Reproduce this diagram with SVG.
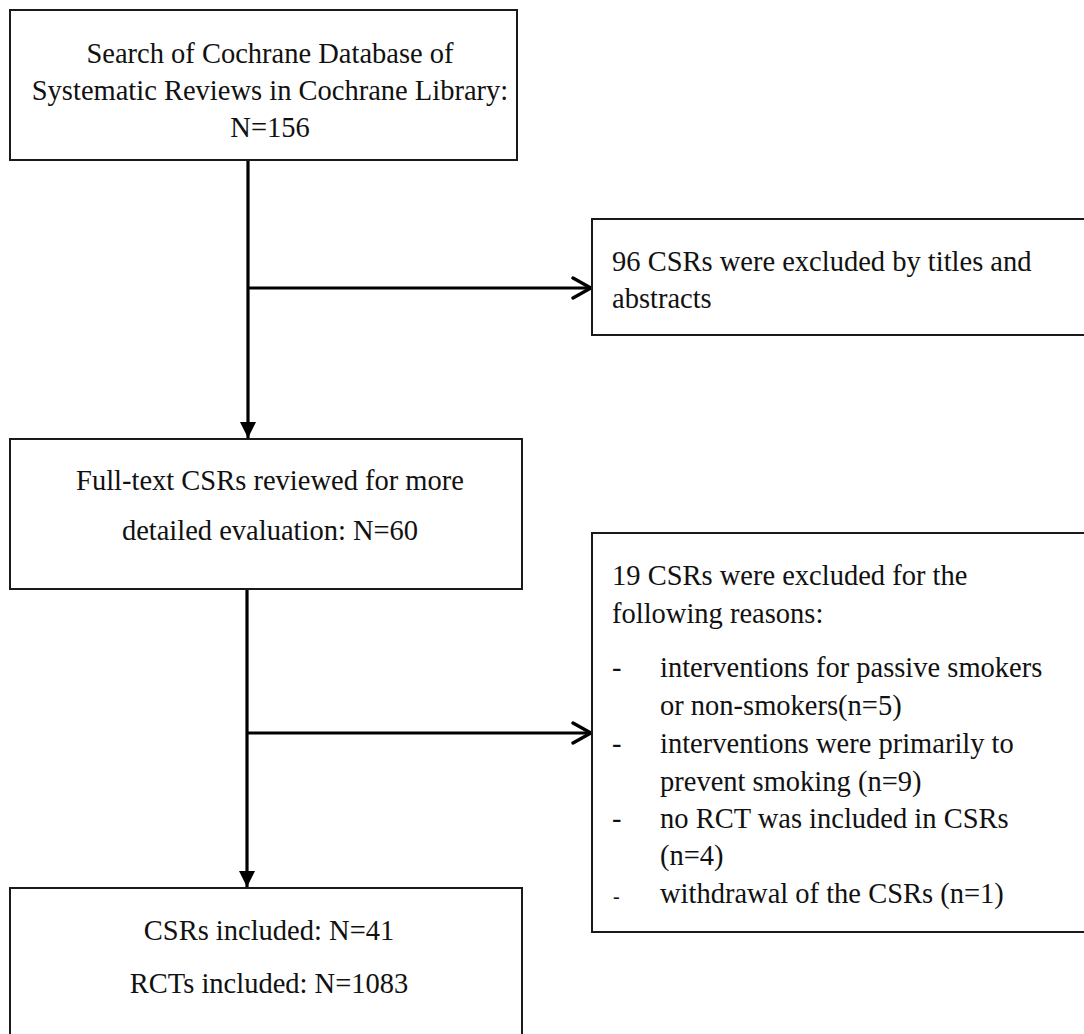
<svg xmlns="http://www.w3.org/2000/svg" width="1084" height="1034" viewBox="0 0 1084 1034">
<style>
  .box { fill: #ffffff; stroke: #1a1a1a; stroke-width: 2; }
  .t { font-family: "Liberation Serif", "Times New Roman", serif; font-size: 28.5px; fill: #111111; }
  .c { text-anchor: middle; }
  .line { stroke: #000000; stroke-width: 3.2; fill: none; }
</style>
<defs>
  <marker id="filled" viewBox="0 0 16 16" markerWidth="16" markerHeight="16" refX="16" refY="8" orient="auto" markerUnits="userSpaceOnUse">
    <path d="M0,0 L16,8 L0,16 Z" fill="#000000"/>
  </marker>
  <marker id="open" viewBox="0 0 22 24" markerWidth="22" markerHeight="24" refX="20" refY="12" orient="auto" markerUnits="userSpaceOnUse">
    <path d="M2,2 L20,12 L2,22" fill="none" stroke="#000000" stroke-width="3.4" stroke-linecap="round" stroke-linejoin="miter"/>
  </marker>
</defs>
<rect width="1084" height="1034" fill="#ffffff"/>

<g id="connectors">
  <line class="line" x1="248" y1="160" x2="248" y2="438" marker-end="url(#filled)"/>
  <line class="line" x1="248" y1="288" x2="591" y2="288" marker-end="url(#open)"/>
  <line class="line" x1="247" y1="589" x2="247" y2="887" marker-end="url(#filled)"/>
  <line class="line" x1="247" y1="733" x2="591" y2="733" marker-end="url(#open)"/>
</g>

<g id="node-search">
  <rect class="box" x="10" y="10" width="507" height="150"/>
  <text class="t c" x="270" y="63">Search of Cochrane Database of</text>
  <text class="t c" x="270" y="100">Systematic Reviews in Cochrane Library:</text>
  <text class="t c" x="270" y="137">N=156</text>
</g>

<g id="node-excluded-titles">
  <rect class="box" x="592" y="219" width="500" height="116"/>
  <text class="t" x="612" y="271">96 CSRs were excluded by titles and</text>
  <text class="t" x="612" y="308">abstracts</text>
</g>

<g id="node-fulltext">
  <rect class="box" x="10" y="439" width="512" height="150"/>
  <text class="t c" x="270" y="490">Full-text CSRs reviewed for more</text>
  <text class="t c" x="270" y="540">detailed evaluation: N=60</text>
</g>

<g id="node-excluded-reasons">
  <rect class="box" x="592" y="533" width="500" height="399"/>
  <text class="t" x="612" y="585">19 CSRs were excluded for the</text>
  <text class="t" x="612" y="623">following reasons:</text>
  <text class="t" x="612" y="677">-</text>
  <text class="t" x="660" y="677">interventions for passive smokers</text>
  <text class="t" x="660" y="715">or non-smokers(n=5)</text>
  <text class="t" x="612" y="753">-</text>
  <text class="t" x="660" y="753">interventions were primarily to</text>
  <text class="t" x="660" y="791">prevent smoking (n=9)</text>
  <text class="t" x="612" y="828">-</text>
  <text class="t" x="660" y="828">no RCT was included in CSRs</text>
  <text class="t" x="660" y="865">(n=4)</text>
  <text class="t" x="613" y="903" style="font-size:20px">-</text>
  <text class="t" x="660" y="903">withdrawal of the CSRs (n=1)</text>
</g>

<g id="node-included">
  <rect class="box" x="10" y="888" width="512" height="160"/>
  <text class="t c" x="269" y="940">CSRs included: N=41</text>
  <text class="t c" x="269" y="993">RCTs included: N=1083</text>
</g>
</svg>
